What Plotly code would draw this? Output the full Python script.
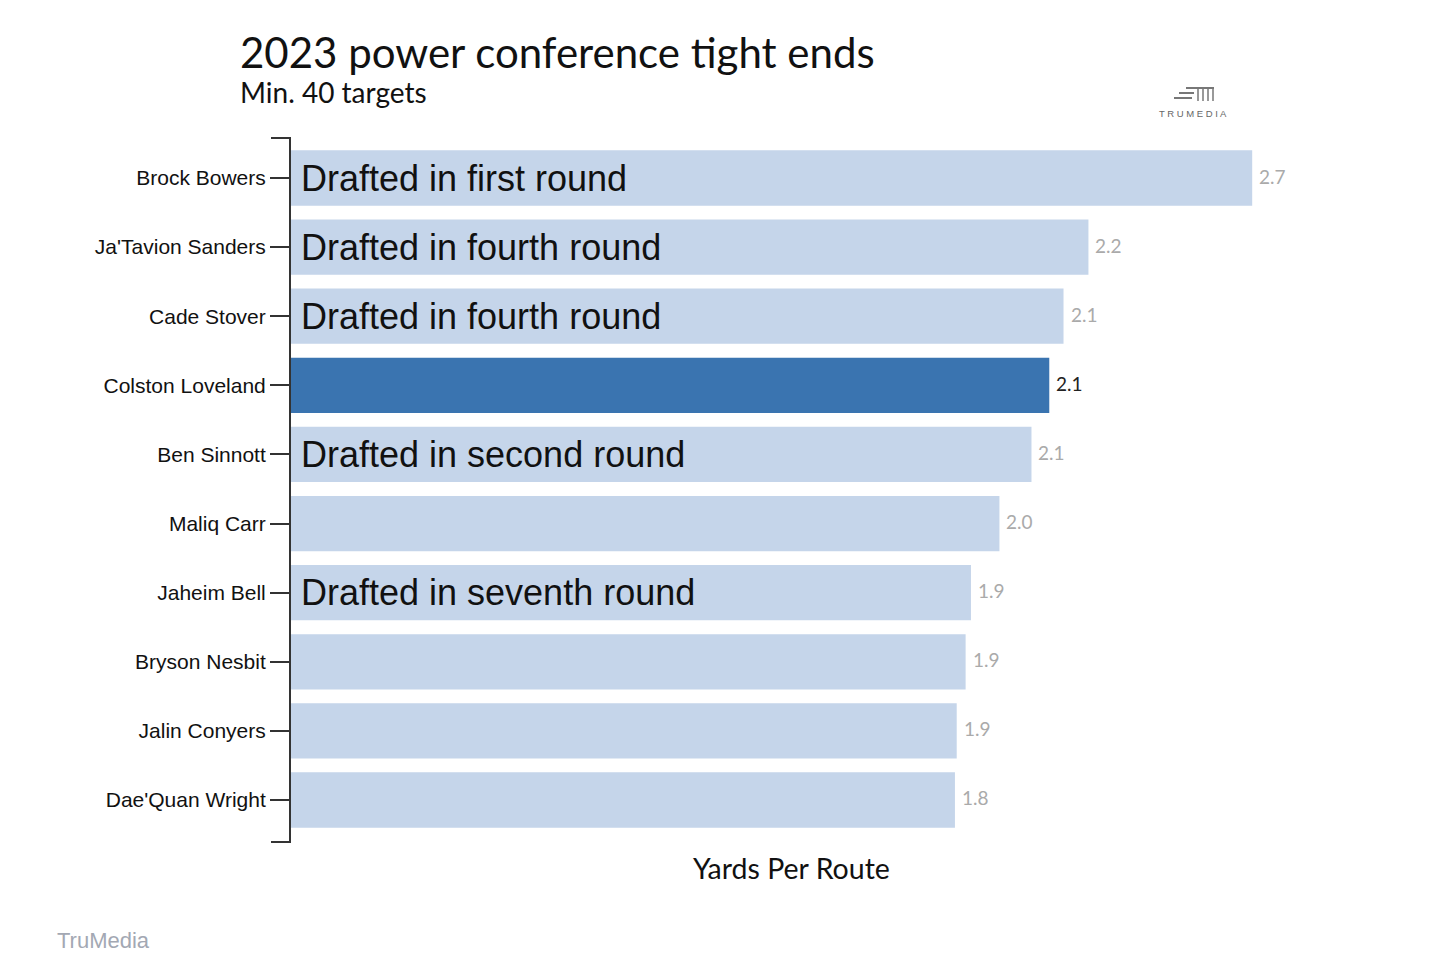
import plotly.graph_objects as go

players = ["Brock Bowers", "Ja'Tavion Sanders", "Cade Stover", "Colston Loveland",
           "Ben Sinnott", "Maliq Carr", "Jaheim Bell", "Bryson Nesbit",
           "Jalin Conyers", "Dae'Quan Wright"]
ypr = [2.70, 2.24, 2.17, 2.13, 2.08, 1.99, 1.91, 1.895, 1.87, 1.865]
ypr_labels = ["2.7", "2.2", "2.1", "2.1", "2.1", "2.0", "1.9", "1.9", "1.9", "1.8"]
draft_notes = ["Drafted in first round", "Drafted in fourth round", "Drafted in fourth round",
               "", "Drafted in second round", "", "Drafted in seventh round", "", "", ""]
highlight = "Colston Loveland"

OFF = 8  # page body margin offset
W, H = 1436, 978
L, R, T, B = 291 - OFF, 100 + OFF, 138 - OFF, 136 + OFF
pw, ph = W - L - R, H - T - B
xscale = 356.0  # px per unit
xmax = pw / xscale

LIGHT = "#c5d5ea"
DARK = "#3a74b0"

colors = [DARK if p == highlight else LIGHT for p in players]

fig = go.Figure(go.Bar(
    x=ypr, y=players, orientation="h",
    marker=dict(color=colors, line=dict(width=0)),
    width=0.8, hoverinfo="skip",
))

ann = []
for p, v, lab, note in zip(players, ypr, ypr_labels, draft_notes):
    ann.append(dict(x=v, y=p, xref="x", yref="y", text=lab, showarrow=False,
                    xanchor="left", xshift=5, yshift=2,
                    font=dict(family="Lato", size=19,
                              color="#222222" if p == highlight else "#aaaaaa")))
    if note:
        ann.append(dict(x=0, y=p, xref="x", yref="y", text=note, showarrow=False,
                        xanchor="left", xshift=8, yshift=0,
                        font=dict(family="Liberation Sans", size=36, color="#111111")))

def px2paper(x, y):
    # x, y in reference screen pixels
    return (x - OFF - L) / pw, (H - B - (y - OFF)) / ph

# titles
ann.append(dict(text="2023 power conference tight ends", x=px2paper(238, 0)[0],
                y=px2paper(0, 52)[1], xref="paper", yref="paper", xanchor="left",
                yanchor="middle", showarrow=False,
                font=dict(family="Lato", size=42, color="#111111")))
ann.append(dict(text="Min. 40 targets", x=px2paper(238, 0)[0],
                y=px2paper(0, 92)[1], xref="paper", yref="paper", xanchor="left",
                yanchor="middle", showarrow=False,
                font=dict(family="Lato", size=28, color="#111111")))
ann.append(dict(text="Yards Per Route", x=px2paper(791, 0)[0],
                y=px2paper(0, 868)[1], xref="paper", yref="paper", xanchor="center",
                yanchor="middle", showarrow=False,
                font=dict(family="Lato", size=28.5, color="#111111")))
ann.append(dict(text="TruMedia", x=px2paper(55, 0)[0],
                y=px2paper(0, 940)[1], xref="paper", yref="paper", xanchor="left",
                yanchor="middle", showarrow=False,
                font=dict(family="Liberation Sans", size=22, color="#a3a8b3")))
ann.append(dict(text="T R U M E D I A", x=px2paper(1193, 0)[0],
                y=px2paper(0, 113)[1], xref="paper", yref="paper", xanchor="center",
                yanchor="middle", showarrow=False,
                font=dict(family="Liberation Sans", size=9.5, color="#666666")))

shapes = []
def line_px(x0, y0, x1, y1, color="#333333", width=2):
    a = px2paper(x0, y0)
    b = px2paper(x1, y1)
    shapes.append(dict(type="line", xref="paper", yref="paper",
                       x0=a[0], y0=a[1], x1=b[0], y1=b[1],
                       line=dict(color=color, width=width)))

# axis domain caps
line_px(271, 138, 291, 138)
line_px(271, 842, 291, 842)

# logo glyph
g = "#777777"
line_px(1186, 88, 1214, 88, g, 2)
line_px(1179, 93, 1194, 93, g, 2)
line_px(1174, 98, 1192, 98, g, 2)
for xx in (1198, 1203, 1208, 1213):
    line_px(xx, 88, xx, 101, g, 1.5)

fig.update_layout(
    width=W, height=H,
    margin=dict(l=L, r=R, t=T, b=B),
    paper_bgcolor="white", plot_bgcolor="white",
    showlegend=False,
    annotations=ann, shapes=shapes,
    xaxis=dict(range=[0, xmax], visible=False, fixedrange=True),
    yaxis=dict(range=[9 + (842 - 800) / 69.1, -(178 - 138) / 69.1],
               showline=True, linecolor="#333333", linewidth=2,
               ticks="outside", ticklen=19, tickwidth=1.6, tickcolor="#333333",
               tickfont=dict(family="Liberation Sans", size=21, color="#111111"),
               showgrid=False, zeroline=False, fixedrange=True,
               categoryorder="array", categoryarray=players),
)

fig.write_html("out.html")
